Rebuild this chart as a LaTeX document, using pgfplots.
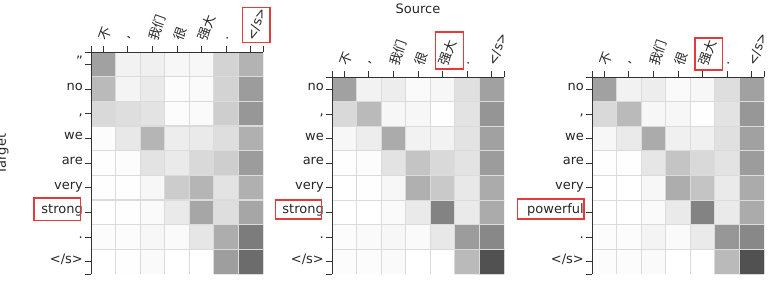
\documentclass[border=0pt]{standalone}
\usepackage{pgfplots}
\pgfplotsset{compat=1.18}
\usepackage{fontspec}
\setmainfont{DejaVu Sans}
\newfontfamily\cjk{Noto Sans CJK SC}
\definecolor{boxred}{RGB}{228,58,58}
\definecolor{txt}{RGB}{38,38,38}

\pgfplotstableread{
x y c
0 0 160
1 0 240
2 0 238
3 0 245
4 0 245
5 0 210
6 0 178
0 1 185
1 1 242
2 1 232
3 1 250
4 1 248
5 1 210
6 1 155
0 2 215
1 2 220
2 2 225
3 2 250
4 2 248
5 2 205
6 2 150
0 3 250
1 3 230
2 3 180
3 3 235
4 3 232
5 3 220
6 3 175
0 4 252
1 4 250
2 4 225
3 4 232
4 4 215
5 4 205
6 4 155
0 5 252
1 5 252
2 5 245
3 5 203
4 5 180
5 5 225
6 5 175
0 6 254
1 6 252
2 6 248
3 6 232
4 6 165
5 6 220
6 6 165
0 7 250
1 7 250
2 7 245
3 7 248
4 7 228
5 7 172
6 7 123
0 8 253
1 8 252
2 8 248
3 8 253
4 8 253
5 8 157
6 8 107
}\attnA

\pgfplotstableread{
x y c
0 0 160
1 0 240
2 0 235
3 0 248
4 0 245
5 0 222
6 0 160
0 1 215
1 1 185
2 1 245
3 1 245
4 1 252
5 1 225
6 1 148
0 2 245
1 2 235
2 2 170
3 2 240
4 2 240
5 2 225
6 2 160
0 3 252
1 3 250
2 3 225
3 3 195
4 3 215
5 3 225
6 3 155
0 4 253
1 4 252
2 4 245
3 4 175
4 4 200
5 4 230
6 4 170
0 5 254
1 5 253
2 5 248
3 5 232
4 5 130
5 5 232
6 5 170
0 6 250
1 6 248
2 6 245
3 6 248
4 6 230
5 6 155
6 6 135
0 7 250
1 7 250
2 7 248
3 7 253
4 7 253
5 7 185
6 7 80
}\attnB

\pgfplotstableread{
x y c
0 0 160
1 0 240
2 0 235
3 0 248
4 0 245
5 0 220
6 0 160
0 1 215
1 1 185
2 1 245
3 1 245
4 1 252
5 1 225
6 1 150
0 2 245
1 2 232
2 2 170
3 2 238
4 2 238
5 2 222
6 2 160
0 3 252
1 3 252
2 3 228
3 3 195
4 3 215
5 3 225
6 3 155
0 4 253
1 4 253
2 4 245
3 4 172
4 4 195
5 4 232
6 4 170
0 5 254
1 5 253
2 5 248
3 5 232
4 5 130
5 5 232
6 5 170
0 6 250
1 6 250
2 6 242
3 6 248
4 6 232
5 6 150
6 6 135
0 7 250
1 7 250
2 7 248
3 7 253
4 7 253
5 7 185
6 7 80
}\attnC

\pgfplotsset{
  attn/.style={
    scale only axis, width=172pt,
    axis x line*=top, axis y line*=left,
    xmin=-0.5, xmax=6.5, y dir=reverse,
    tick align=outside, major tick length=6pt,
    xtick={0,...,6},
    xticklabels={{\cjk 不},{,},{\cjk 我们},{\cjk 很},{\cjk 强大},{.},{</s>}},
    xticklabel style={rotate=70, anchor=west, inner sep=1pt, text=txt},
    xticklabel shift=5pt,
    yticklabel style={anchor=base east, inner sep=2pt, yshift=-1.5pt, text=txt},
    colormap={bw}{gray(0cm)=(0); gray(1cm)=(1)},
    point meta min=0, point meta max=255,
    minor xtick={0.5,1.5,...,5.5},
    minor tick length=0pt,
    xminorgrids, yminorgrids,
    minor grid style={black!14, line width=1.2pt},
    axis on top,
    axis line style={black!80, line width=0.8pt},
    every tick/.style={black!80, line width=0.8pt},
    extra x ticks={-0.5,6.5}, extra x tick labels={},
    extra x tick style={grid=none},
    extra y tick style={grid=none},
    font=\fontsize{13}{15.6}\selectfont,
  }
}

\begin{document}
\begin{tikzpicture}[x=1pt,y=1pt]
\useasboundingbox (0,0) rectangle (773,282);

% Panel 1
\begin{axis}[attn, at={(91pt,8pt)}, anchor=south west, height=222pt,
  ymin=-0.5, ymax=8.5,
  ytick={0,...,8},
  yticklabels={{\symbol{34}},{no},{,},{we},{are},{very},{strong},{.},{</s>}},
  minor ytick={0.5,1.5,...,7.5},
  extra y ticks={-0.5,8.5}, extra y tick labels={}]
\addplot[matrix plot*, mesh/cols=7, point meta=explicit] table[meta=c] {\attnA};
\end{axis}

% Panel 2
\begin{axis}[attn, at={(332pt,8pt)}, anchor=south west, height=197pt,
  ymin=-0.5, ymax=7.5,
  ytick={0,...,7},
  yticklabels={{no},{,},{we},{are},{very},{strong},{.},{</s>}},
  minor ytick={0.5,1.5,...,6.5},
  extra y ticks={-0.5,7.5}, extra y tick labels={}]
\addplot[matrix plot*, mesh/cols=7, point meta=explicit] table[meta=c] {\attnB};
\end{axis}

% Panel 3
\begin{axis}[attn, at={(592pt,8pt)}, anchor=south west, height=197pt,
  ymin=-0.5, ymax=7.5,
  ytick={0,...,7},
  yticklabels={{no},{,},{we},{are},{very},{powerful},{.},{</s>}},
  minor ytick={0.5,1.5,...,6.5},
  extra y ticks={-0.5,7.5}, extra y tick labels={}]
\addplot[matrix plot*, mesh/cols=7, point meta=explicit] table[meta=c] {\attnC};
\end{axis}

\node[anchor=base, text=txt, font=\fontsize{13}{15.6}\selectfont] at (418,269) {Source};
\node[rotate=90, anchor=base, text=txt, font=\fontsize{13}{15.6}\selectfont] at (6,128) {Target};

% red highlight boxes
\begin{scope}[boxred, line width=1.2pt]
\draw (242.7,239.3) rectangle (270,274.7);
\draw (435.7,213) rectangle (463.3,250);
\draw (695,212) rectangle (722.3,244);
\draw (34,61.3) rectangle (80.7,84);
\draw (275.7,63) rectangle (321.7,82);
\draw (517.3,63) rectangle (584,83);
\end{scope}
\end{tikzpicture}
\end{document}
